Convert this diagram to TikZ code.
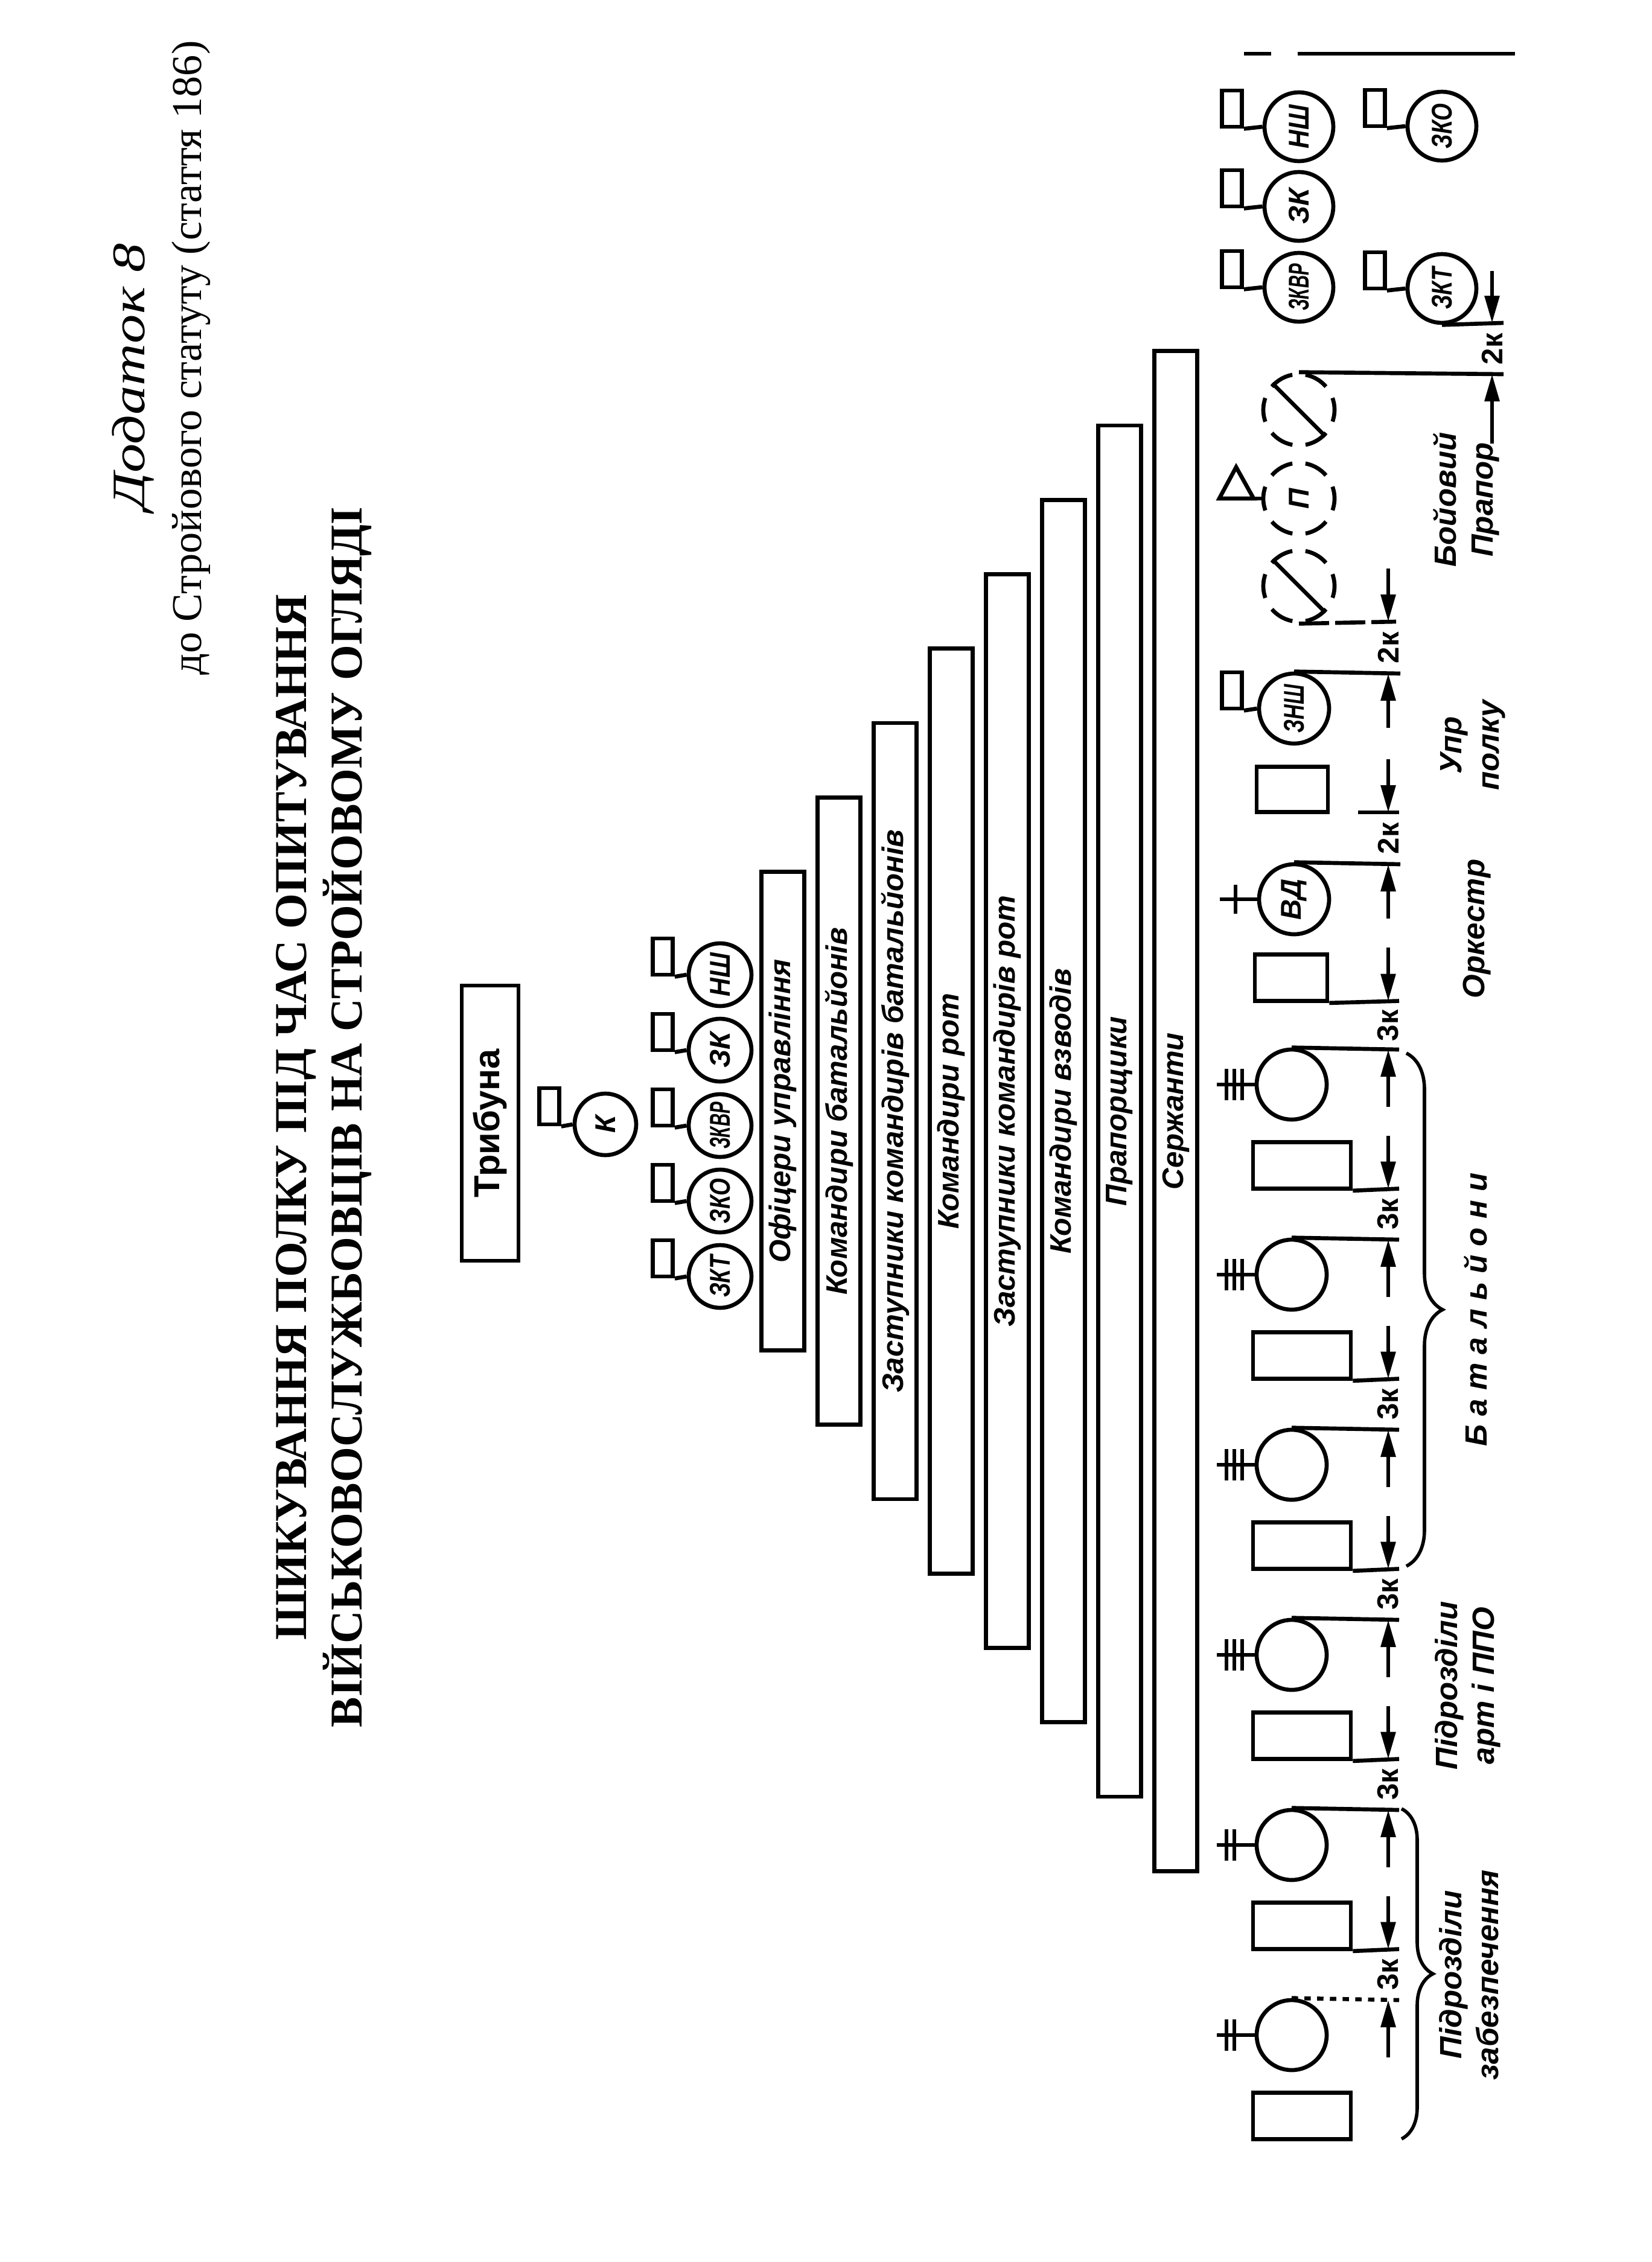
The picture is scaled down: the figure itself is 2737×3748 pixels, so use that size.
\documentclass[tikz,border=0pt]{standalone}
\usepackage{fontspec}
\usepackage{graphicx}
\setmainfont{Liberation Serif}
\setsansfont{Liberation Sans}
\usetikzlibrary{arrows.meta,decorations.pathreplacing}
\newcommand{\vtxt}[1]{\rotatebox{90}{#1}}

\begin{document}
\begin{tikzpicture}[x=0.1mm,y=-0.1mm,line width=1.9pt,
  lbl/.style={rotate=90,align=center,font=\sffamily\bfseries\itshape\fontsize{14.5}{17.5}\selectfont},
  dimlbl/.style={rotate=90,font=\sffamily\bfseries\fontsize{14}{16}\selectfont},
  pers/.style={draw,circle,minimum size=11.6mm,inner sep=0pt,font=\sffamily\bfseries\itshape\fontsize{13.5}{15}\selectfont},
  staffpers/.style={pers,minimum size=10.4mm},
  ghost/.style={pers,minimum size=11.8mm,dash pattern=on 4mm off 2.18mm,dash phase=2mm},
  flagbox/.style={draw,minimum width=3.3mm,minimum height=6mm,inner sep=0pt},
  unitbox/.style={draw,minimum width=16.2mm,minimum height=7.7mm,inner sep=0pt},
  rankbar/.style={draw,minimum width=7.1mm,inner sep=0pt,font=\sffamily\bfseries\itshape\fontsize{14}{16}\selectfont},
  dimarrow/.style={-{Triangle[length=4.5mm,width=2.4mm]},line width=1.7pt},
  bracket/.style={decorate,decoration={brace,amplitude=#1},line width=1.6pt}]
\useasboundingbox (0,0) rectangle (2737,3748);

\node (dod) at (221,624) [rotate=90,font=\itshape\fontsize{22}{26}\selectfont] {\scalebox{1.25}[1]{Додаток 8}};
\node (stat) at (317,593) [rotate=90,font=\fontsize{20}{24}\selectfont] {до Стройового статуту (стаття 186)};
\node (title) at (537,1851) [rotate=90,align=center,font=\bfseries\fontsize{21.5}{26.2}\selectfont] {ШИКУВАННЯ ПОЛКУ ПІД ЧАС ОПИТУВАННЯ\\ВІЙСЬКОВОСЛУЖБОВЦІВ НА СТРОЙОВОМУ ОГЛЯДІ};

\node (trib) at (812,1861) [draw,minimum width=9.4mm,minimum height=45.6mm,inner sep=0pt,font=\sffamily\bfseries\fontsize{17}{19}\selectfont] {\vtxt{Трибуна}};
\node (kom) at (1003,1863) [staffpers,minimum size=10.2mm] {\vtxt{К}};
\node (fkom) at (910,1833) [flagbox] {};
\draw (fkom.south east) -- (kom.west);
\foreach \yy/\txt/\sc/\nm in {1615/НШ/0.9/nsh,1740/ЗК/1/zk,1865/ЗКВР/0.62/zkvr,1990/ЗКО/0.78/zko,2115/ЗКТ/0.78/zkt} {
  \node (\nm) at (1193,\yy) [staffpers] {\vtxt{\scalebox{\sc}[1]{\txt}}};
  \node (f\nm) at (1098,\yy-30) [flagbox] {};
  \draw (f\nm.south east) -- (\nm.west);
}

\foreach \txt [count=\ii] in {Офіцери управління,Командири батальйонів,Заступники командирів батальйонів,Командири рот,Заступники командирів рот,Командири взводів,Прапорщики,Сержанти} {
  \pgfmathsetmacro\bh{79.3+24.65*(\ii-1)}
  \node (bar\ii) at ({1297+93*(\ii-1)},1841) [rankbar,minimum height=\bh mm] {\vtxt{\txt}};
}

\draw[line width=1.5pt] (2061,89) -- (2106,89) (2150,89) -- (2510,89);
\foreach \xx/\yy/\txt/\sc/\nm in {2152/210/НШ/0.9/nshp,2152/342/ЗК/1/zkp,2152/476/ЗКВР/0.62/zkvrp,2389/209/ЗКО/0.78/zkop,2389/478/ЗКТ/0.78/zktp} {
  \node (\nm) at (\xx,\yy) [pers,minimum size=11.4mm] {\vtxt{\scalebox{\sc}[1]{\txt}}};
  \node (f\nm) at (\xx-111,\yy-30) [flagbox] {};
  \draw (f\nm.south east) -- (\nm.west);
}

\node (asa) at (2152,679) [ghost] {};
\node (prp) at (2152,826) [ghost] {\vtxt{П}};
\node (asb) at (2152,971) [ghost] {};
\draw (asa.135) -- (asa.-45);
\draw (asb.135) -- (asb.-45);
\coordinate (pole) at (2077,826);
\draw (prp.west) -- (pole);
\draw (pole) -- (2048,774) -- (2020,826) -- cycle;
\draw (asa.north) -- (2491,620);
\draw (zktp.south) -- (2491,535);
\coordinate (da1) at (2472,535);
\coordinate (ta1) at (2472,449);
\coordinate (da2) at (2472,620);
\coordinate (ta2) at (2472,735);
\draw[dimarrow] (ta1) -- (da1);
\draw[dimarrow] (ta2) -- (da2);
\node (dka) at (2472,578) [dimlbl] {2к};
\node (lbp) at (2429,828) [lbl] {Бойовий\\Прапор};

\node (znsh) at (2144,1174) [pers] {\vtxt{\scalebox{0.72}[1]{ЗНШ}}};
\node (fznsh) at (2041,1144) [flagbox] {};
\draw (fznsh.south east) -- (znsh.west);
\draw[dash pattern=on 5mm off 1mm] (asb.south) -- (2313,1030);
\draw (znsh.north) -- (2320,1116);
\coordinate (db1) at (2300,1030);
\coordinate (tb1) at (2300,942);
\coordinate (db2) at (2300,1116);
\coordinate (tb2) at (2300,1206);
\draw[dimarrow] (tb1) -- (db1);
\draw[dimarrow] (tb2) -- (db2);
\node (dkb) at (2300,1073) [dimlbl] {2к};

\node (upr) at (2141,1308) [unitbox,minimum width=11.8mm,minimum height=7.5mm] {};
\node (vd) at (2144,1490) [pers] {\vtxt{ВД}};
\coordinate (vds) at (2021,1490);
\draw (vd.west) -- (vds);
\draw (2047,1466) -- (2047,1514);
\coordinate (dc1) at (2300,1346);
\coordinate (tc1) at (2300,1258);
\coordinate (dc2) at (2300,1432);
\coordinate (tc2) at (2300,1522);
\draw ([xshift=-5mm]dc1) -- ([xshift=1.8mm]dc1);
\draw (vd.north) -- (2320,1432);
\draw[dimarrow] (tc1) -- (dc1);
\draw[dimarrow] (tc2) -- (dc2);
\node (dkc) at (2300,1389) [dimlbl] {2к};

\node (orch) at (2139,1620) [unitbox,minimum width=12mm] {};
\foreach \kk/\nb in {0/3,1/3,2/3,3/3,4/2,5/2} {
  \pgfmathsetmacro\yc{1797+315*\kk}
  \node (c\kk) at (2140,\yc) [pers] {};
  \node (r\kk) at (2157,\yc+134) [unitbox] {};
  \coordinate (s\kk) at (2016,\yc);
  \draw (c\kk.west) -- (s\kk);
  \foreach \jj in {1,...,\nb} \draw ({2019+13*\jj},\yc-26) -- ++(0,52);
}
\draw (orch.south east) -- (2318,1658.5);
\draw (c0.north) -- (2318,1739);
\coordinate (dd1) at (2300,1658.5);
\coordinate (td1) at (2300,1570);
\coordinate (dd2) at (2300,1739);
\coordinate (td2) at (2300,1834);
\draw[dimarrow] (td1) -- (dd1);
\draw[dimarrow] (td2) -- (dd2);
\node (dkd) at (2300,1699) [dimlbl] {3к};
\foreach \ua/\lb/\ds in {0/1/solid,1/2/solid,2/3/solid,3/4/solid,4/5/dashed} {
  \pgfmathsetmacro\yu{1797+315*\ua+172.5}
  \pgfmathsetmacro\yl{1797+315*\lb-58}
  \draw (r\ua.south east) -- (2318,\yu);
  \draw[\ds] (c\lb.north) -- (2318,\yl);
  \coordinate (du\ua) at (2300,\yu);
  \coordinate (tu\ua) at (2300,\yu-88);
  \coordinate (dl\ua) at (2300,\yl);
  \coordinate (tl\ua) at (2300,\yl+95);
  \draw[dimarrow] (tu\ua) -- (du\ua);
  \draw[dimarrow] (tl\ua) -- (dl\ua);
  \node (dk\ua) at (2300,{(\yu+\yl)/2}) [dimlbl] {3к};
}

\coordinate (bt1) at (2330,1745);
\coordinate (bb1) at (2330,2595);
\coordinate (bt2) at (2322,2997);
\coordinate (bb2) at (2322,3544);
\draw[bracket=6mm] (bt1) -- (bb1);
\draw[bracket=5.2mm] (bt2) -- (bb2);

\node (lupr) at (2440,1235) [lbl] {Упр\\полку};
\node (lork) at (2447,1539) [lbl] {Оркестр};
\node (lbat) at (2445,2170) [lbl] {\addfontfeature{LetterSpace=28}Батальйони};
\node (lart) at (2432,2793) [lbl] {Підрозділи\\арт і ППО};
\node (lzab) at (2434,3272) [lbl] {Підрозділи\\забезпечення};
\end{tikzpicture}
\end{document}
